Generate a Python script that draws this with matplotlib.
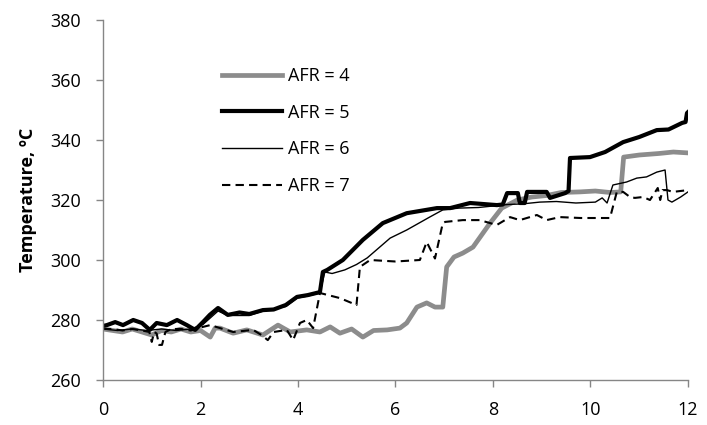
import numpy as np
import matplotlib.pyplot as plt

plt.rcParams['font.family'] = ['Open Sans', 'DejaVu Sans']

# time (x) and temperature (y) for each air/fuel ratio
afr4_x = [0, 0.2, 0.4, 0.6, 0.8, 1.0, 1.2, 1.4, 1.6, 1.8, 2.0, 2.2, 2.3, 2.4, 2.67, 2.95,
          3.28, 3.59, 3.84, 4.18, 4.45, 4.66, 4.86, 5.1, 5.33, 5.55, 5.83, 6.09, 6.23, 6.44,
          6.64, 6.81, 6.97, 7.05, 7.2, 7.38, 7.59, 7.94, 8.18, 8.5, 8.8, 9.1, 9.4, 9.78,
          10.1, 10.4, 10.62, 10.68, 11.0, 11.4, 11.7, 12.0]
afr4_y = [277, 276.5, 276, 277, 276, 275, 276.5, 276, 277, 276, 276.5, 274.3, 277.3, 277.3,
          275.6, 276.7, 275, 278.3, 276, 276.7, 276, 277.7, 275.6, 277, 274.3, 276.5, 276.7,
          277.3, 279, 284.3, 285.7, 284.3, 284.3, 297.7, 301, 302.3, 304.3, 312.3, 317.3,
          320, 321, 321.5, 322.5, 322.7, 323, 322.5, 322.7, 334.3, 335, 335.5, 336, 335.7]

afr5_x = [0, 0.08, 0.25, 0.41, 0.62, 0.8, 0.96, 1.1, 1.31, 1.52, 1.72, 1.89, 2.05, 2.19,
          2.36, 2.56, 2.8, 3.0, 3.28, 3.5, 3.75, 3.98, 4.2, 4.45, 4.51, 4.6, 4.92, 5.33,
          5.74, 6.23, 6.85, 7.12, 7.53, 8.08, 8.2, 8.29, 8.51, 8.55, 8.65, 8.7, 9.1, 9.17,
          9.48, 9.55, 9.58, 9.99, 10.3, 10.67, 11.0, 11.36, 11.6, 11.88, 11.95, 11.98, 12.0]
afr5_y = [278, 278.3, 279.3, 278.3, 280, 279, 276.7, 279, 278.3, 280, 278.3, 276.7, 279.3,
          281.7, 284, 281.7, 282.5, 282, 283.3, 283.5, 285, 287.7, 288.3, 289.3, 296, 296.7,
          300, 306.7, 312.3, 315.6, 317.3, 317.3, 319, 318.3, 318.5, 322.3, 322.3, 319, 319,
          322.7, 322.7, 320.7, 322.3, 323, 334, 334.3, 336, 339.3, 341, 343.3, 343.5, 345.7,
          346, 349, 349.3]

afr6_x = [0, 0.3, 0.6, 0.9, 1.2, 1.5, 1.8, 2.05, 2.36, 2.56, 3.0, 3.28, 3.75, 3.98, 4.2,
          4.45, 4.55, 4.7, 4.96, 5.2, 5.42, 5.89, 6.23, 6.7, 6.97, 7.3, 7.7, 8.0, 8.3, 8.6,
          8.96, 9.3, 9.7, 10.1, 10.24, 10.34, 10.46, 10.74, 10.95, 11.15, 11.36, 11.53,
          11.59, 11.67, 11.85, 12.0]
afr6_y = [277, 276.5, 277, 276.5, 277, 276.5, 277, 278.5, 283, 281.5, 281.5, 283, 284.5,
          287.3, 288, 289, 296, 295.5, 296.7, 298.5, 300.7, 307.3, 310, 314.3, 316.7, 317.3,
          317.5, 318, 318.5, 318.7, 319.3, 319.5, 319, 319.3, 320.7, 319, 325, 326, 327.3,
          327.7, 329.3, 330, 320, 319.3, 321, 322.7]

afr7_x = [0, 0.2, 0.4, 0.6, 0.8, 0.95, 1.0, 1.05, 1.1, 1.15, 1.21, 1.28, 1.4, 1.6, 1.8,
          2.0, 2.2, 2.4, 2.67, 3.08, 3.25, 3.38, 3.5, 3.77, 3.9, 4.04, 4.18, 4.31, 4.45,
          4.86, 5.2, 5.27, 5.48, 6.0, 6.5, 6.64, 6.81, 6.97, 7.02, 7.38, 7.73, 7.94, 8.08,
          8.35, 8.55, 8.9, 9.1, 9.37, 9.8, 10.4, 10.54, 10.67, 10.81, 10.91, 11.08, 11.22,
          11.38, 11.43, 11.48, 11.57, 11.69, 12.0]
afr7_y = [277, 277, 276.5, 277, 276.5, 276, 272.7, 276, 275.5, 271.7, 271.7, 276, 277, 277,
          276.5, 277.5, 278.3, 277.3, 276, 276.7, 275, 273.3, 276, 276.7, 273.3, 279, 280,
          277.3, 289, 287.3, 285, 297.7, 300, 299.5, 300, 306, 300.5, 312.3, 312.7, 313.3,
          313.3, 312.3, 311.7, 314.3, 313.3, 315, 313.3, 314.3, 314, 314, 322.7, 322.7, 321,
          320.7, 321, 320, 324, 320, 323.3, 323.3, 322.7, 323.3]

x_ticks = [0, 2, 4, 6, 8, 10, 12]
y_ticks = [260, 280, 300, 320, 340, 360, 380]

fig = plt.figure(figsize=(7.07, 4.25), dpi=100)
ax = fig.add_axes([0.1457, 0.1059, 0.8274, 0.847])

ax.plot(afr4_x, afr4_y, color='#8c8c8c', lw=3.4, label='AFR = 4')
ax.plot(afr5_x, afr5_y, color='black', lw=3.0, label='AFR = 5')
ax.plot(afr6_x, afr6_y, color='black', lw=1.0, label='AFR = 6')
ax.plot(afr7_x, afr7_y, color='black', lw=1.5, dashes=(4, 2.5), label='AFR = 7')

ax.set_xlim(0, 12)
ax.set_ylim(260, 380)
ax.set_xticks(x_ticks)
ax.set_yticks(y_ticks)
ax.tick_params(labelsize=13, length=5, width=1, color='#868686')
ax.tick_params(axis='x', pad=10)
ax.tick_params(axis='y', pad=11)
for s in ('top', 'right'):
    ax.spines[s].set_visible(False)
for s in ('left', 'bottom'):
    ax.spines[s].set_color('#868686')
    ax.spines[s].set_linewidth(1)

ax.set_ylabel('Temperature, ºC', fontsize=13, fontweight='bold', labelpad=9)

ax.legend(loc='upper left', bbox_to_anchor=(0.203, 0.869), frameon=False, fontsize=13,
          handlelength=3.33, handletextpad=0.33, labelspacing=1.03, borderpad=0,
          borderaxespad=0)

fig.savefig('out.png', dpi=100)
